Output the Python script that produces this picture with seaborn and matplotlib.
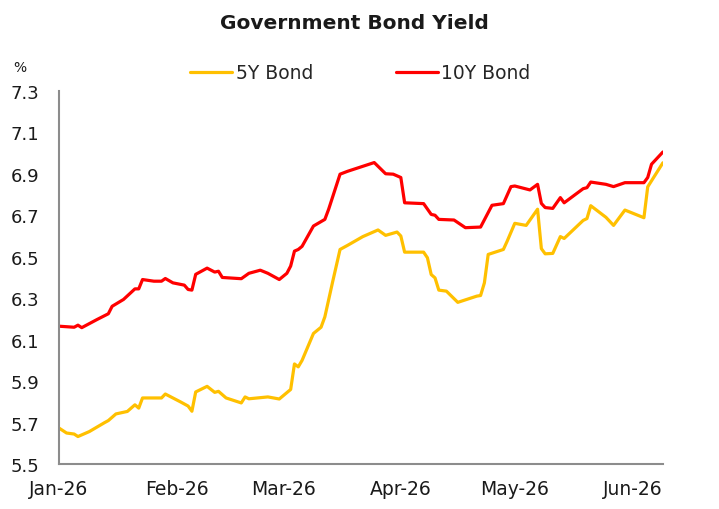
import numpy as np
import pandas as pd
import matplotlib
matplotlib.use('Agg')
import matplotlib.pyplot as plt
import matplotlib.dates as mdates
import seaborn as sns

# ── Data ──────────────────────────────────────────────────────────────
DATES_5Y = [
    '2026-01-01', '2026-01-03', '2026-01-05', '2026-01-06', '2026-01-09', '2026-01-13',
    '2026-01-14', '2026-01-16', '2026-01-19', '2026-01-21', '2026-01-22', '2026-01-23',
    '2026-01-28', '2026-01-29', '2026-01-31', '2026-02-02', '2026-02-04', '2026-02-05',
    '2026-02-06', '2026-02-09', '2026-02-11', '2026-02-12', '2026-02-14', '2026-02-18',
    '2026-02-19', '2026-02-20', '2026-02-25', '2026-02-28', '2026-03-03', '2026-03-04',
    '2026-03-05', '2026-03-06', '2026-03-09', '2026-03-11', '2026-03-12', '2026-03-14',
    '2026-03-16', '2026-03-18', '2026-03-22', '2026-03-26', '2026-03-28', '2026-03-31',
    '2026-04-01', '2026-04-02', '2026-04-07', '2026-04-08', '2026-04-09', '2026-04-10',
    '2026-04-11', '2026-04-13', '2026-04-16', '2026-04-21', '2026-04-22', '2026-04-23',
    '2026-04-24', '2026-04-28', '2026-04-29', '2026-05-01', '2026-05-04', '2026-05-07',
    '2026-05-08', '2026-05-09', '2026-05-11', '2026-05-13', '2026-05-14', '2026-05-19',
    '2026-05-20', '2026-05-21', '2026-05-25', '2026-05-27', '2026-05-30', '2026-06-04',
    '2026-06-05', '2026-06-09',
]
YIELD_5Y = [
    5.674, 5.650, 5.645, 5.633, 5.657, 5.700,
    5.710, 5.742, 5.754, 5.786, 5.770, 5.819,
    5.819, 5.838, 5.819, 5.800, 5.780, 5.755,
    5.848, 5.875, 5.846, 5.851, 5.819, 5.795,
    5.824, 5.815, 5.824, 5.814, 5.860, 5.983,
    5.969, 6.000, 6.130, 6.160, 6.210, 6.375,
    6.535, 6.555, 6.597, 6.629, 6.603, 6.619,
    6.600, 6.522, 6.522, 6.495, 6.414, 6.398,
    6.339, 6.334, 6.280, 6.310, 6.313, 6.374,
    6.511, 6.535, 6.575, 6.661, 6.651, 6.729,
    6.539, 6.514, 6.516, 6.597, 6.588, 6.675,
    6.684, 6.746, 6.690, 6.651, 6.725, 6.688,
    6.837, 6.953,
]

DATES_10Y = [
    '2026-01-01', '2026-01-05', '2026-01-06', '2026-01-07', '2026-01-11', '2026-01-14',
    '2026-01-15', '2026-01-18', '2026-01-21', '2026-01-22', '2026-01-23', '2026-01-26',
    '2026-01-28', '2026-01-29', '2026-01-31', '2026-02-03', '2026-02-04', '2026-02-05',
    '2026-02-06', '2026-02-09', '2026-02-11', '2026-02-12', '2026-02-13', '2026-02-18',
    '2026-02-20', '2026-02-23', '2026-02-25', '2026-02-28', '2026-03-02', '2026-03-03',
    '2026-03-04', '2026-03-05', '2026-03-06', '2026-03-09', '2026-03-12', '2026-03-13',
    '2026-03-16', '2026-03-18', '2026-03-25', '2026-03-28', '2026-03-30', '2026-04-01',
    '2026-04-02', '2026-04-07', '2026-04-09', '2026-04-10', '2026-04-11', '2026-04-15',
    '2026-04-18', '2026-04-22', '2026-04-25', '2026-04-28', '2026-04-30', '2026-05-01',
    '2026-05-05', '2026-05-07', '2026-05-08', '2026-05-09', '2026-05-11', '2026-05-13',
    '2026-05-14', '2026-05-19', '2026-05-20', '2026-05-21', '2026-05-25', '2026-05-27',
    '2026-05-30', '2026-06-04', '2026-06-05', '2026-06-06', '2026-06-09',
]
YIELD_10Y = [
    6.165, 6.160, 6.170, 6.158, 6.197, 6.225,
    6.261, 6.294, 6.345, 6.345, 6.390, 6.382,
    6.382, 6.395, 6.374, 6.363, 6.342, 6.339,
    6.415, 6.445, 6.426, 6.430, 6.400, 6.394,
    6.420, 6.435, 6.420, 6.390, 6.420, 6.455,
    6.527, 6.535, 6.550, 6.648, 6.680, 6.729,
    6.898, 6.912, 6.954, 6.900, 6.898, 6.882,
    6.760, 6.756, 6.704, 6.700, 6.680, 6.677,
    6.640, 6.643, 6.748, 6.756, 6.838, 6.841,
    6.822, 6.849, 6.757, 6.737, 6.733, 6.785,
    6.760, 6.828, 6.833, 6.860, 6.849, 6.838,
    6.857, 6.857, 6.882, 6.946, 7.005,
]

SERIES = ['5Y Bond', '10Y Bond']
COLORS = {'5Y Bond': '#FFC000', '10Y Bond': '#FF0000'}
Y_TICKS = [5.5, 5.7, 5.9, 6.1, 6.3, 6.5, 6.7, 6.9, 7.1, 7.3]

df = pd.concat([
    pd.DataFrame({'date': pd.to_datetime(DATES_5Y), 'yield': YIELD_5Y, 'series': SERIES[0]}),
    pd.DataFrame({'date': pd.to_datetime(DATES_10Y), 'yield': YIELD_10Y, 'series': SERIES[1]}),
], ignore_index=True)

# ── Plot ──────────────────────────────────────────────────────────────
sns.set_style('white')
plt.rcParams['font.family'] = ['DejaVu Sans']

fig = plt.figure(figsize=(7.19, 5.10), dpi=100)
ax = fig.add_axes([0.082, 0.088, 0.840, 0.732])

sns.lineplot(data=df, x='date', y='yield', hue='series', hue_order=SERIES,
             palette=COLORS, linewidth=2.3, ax=ax, legend=False)

ax.set_xlim(pd.Timestamp('2026-01-01'), pd.Timestamp('2026-06-09'))
ax.set_ylim(5.5, 7.3)
ax.set_yticks(Y_TICKS)
ax.set_yticklabels([f'{t:.1f}' for t in Y_TICKS])
ax.xaxis.set_major_locator(mdates.MonthLocator())
ax.xaxis.set_major_formatter(mdates.DateFormatter('%b-%y'))
ax.set_xlabel('')
ax.set_ylabel('')

for side in ['top', 'right']:
    ax.spines[side].set_visible(False)
for side in ['left', 'bottom']:
    ax.spines[side].set_color('#8c8c8c')
    ax.spines[side].set_linewidth(1.5)
ax.tick_params(axis='both', which='major', direction='out', width=1.2,
               color='#8c8c8c', labelcolor='#1a1a1a')
ax.tick_params(axis='y', length=2, pad=12, labelsize=13)
ax.tick_params(axis='x', length=4, pad=7, labelsize=13.5)

# legend
handles = [plt.Line2D([], [], color=COLORS[s], linewidth=2.3) for s in SERIES]
fig.legend(handles, SERIES, loc='center', bbox_to_anchor=(0.501, 0.855), ncol=2,
           frameon=False, fontsize=13.5, handlelength=2.25, handletextpad=0.2,
           columnspacing=4.4)

fig.text(0.493, 0.9426, 'Government Bond Yield', ha='center', va='baseline',
         fontsize=14.5, fontweight='bold', color='#1a1a1a')
fig.text(0.028, 0.866, '%', ha='center', va='center', fontsize=10, color='#1a1a1a')

fig.savefig('out.png', dpi=100)
